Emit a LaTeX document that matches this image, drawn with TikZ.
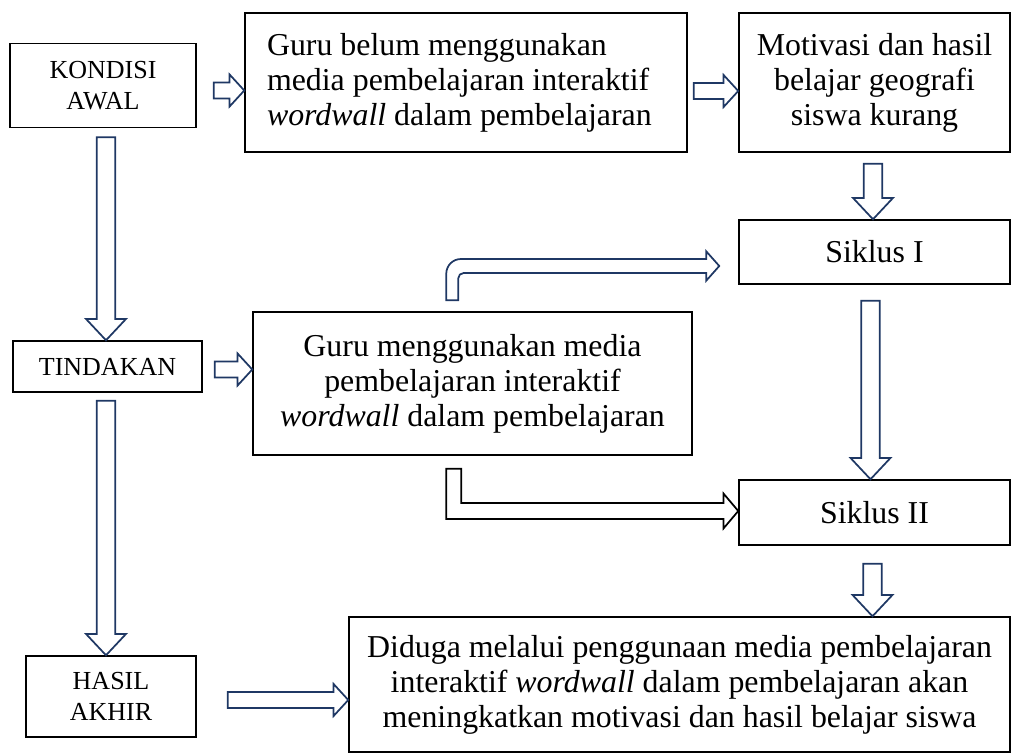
\documentclass[tikz,border=0pt]{standalone}
\usepackage{fontspec}
\setmainfont{Liberation Serif}
\usetikzlibrary{calc,positioning}
\definecolor{navy}{RGB}{31,56,100}
\tikzstyle{flow}=[
  x=0.75pt,y=-0.75pt,line join=miter
]
\tikzstyle{box}=[
  draw,line width=1.1pt,inner sep=0pt,align=center,
  font=\fontsize{23.9}{26.25}\selectfont
]
\tikzstyle{smallbox}=[
  box,font=\fontsize{19.5}{23.25}\selectfont
]
\tikzstyle{blk}=[
  draw=navy,line width=1.3pt,fill=white
]
% horizontal block arrow: start, tip
\newcommand{\harrow}[3][navy]{%
  \draw[blk,draw=#1] let \p1=(#2), \p2=(#3) in
    (\x1,\y1-6pt) -- (\x2-11pt,\y1-6pt) -- (\x2-11pt,\y1-12pt) -- (\x2,\y1)
    -- (\x2-11pt,\y1+12pt) -- (\x2-11pt,\y1+6pt) -- (\x1,\y1+6pt) -- cycle;}
% vertical block arrow (down): start, tip
\newcommand{\varrow}[2]{%
  \draw[blk] let \p1=(#1), \p2=(#2) in
    (\x1-7pt,\y1) -- (\x1-7pt,\y2+16pt) -- (\x1-15pt,\y2+16pt) -- (\x1,\y2)
    -- (\x1+15pt,\y2+16pt) -- (\x1+7pt,\y2+16pt) -- (\x1+7pt,\y1) -- cycle;}

\begin{document}
\begin{tikzpicture}[flow]
  \useasboundingbox (0,0) rectangle (1022,753);
  % boxes
  \node (kondisi) at (103,85.5) [smallbox,minimum width=186*0.75pt,minimum height=84*0.75pt] {KONDISI\\AWAL};
  \node (guru1) at (466,82.5) [box,align=flush left,text width=398*0.75pt,inner xsep=22*0.75pt,minimum height=139*0.75pt]
    {Guru belum menggunakan\\media pembelajaran interaktif\\\textit{wordwall} dalam pembelajaran};
  \node (motiv) at (874.5,82.5) [box,minimum width=271*0.75pt,minimum height=139*0.75pt]
    {Motivasi dan hasil\\belajar geografi\\siswa kurang};
  \node (siklus1) at (874.5,252) [box,minimum width=271*0.75pt,minimum height=64*0.75pt] {Siklus I};
  \node (tindakan) at (107.5,366.5) [smallbox,minimum width=189*0.75pt,minimum height=51*0.75pt] {TINDAKAN};
  \node (guru2) at (472.5,383.5) [box,minimum width=439*0.75pt,minimum height=143*0.75pt]
    {Guru menggunakan media\\pembelajaran interaktif\\\textit{wordwall} dalam pembelajaran};
  \node (siklus2) at (874.5,512.5) [box,minimum width=271*0.75pt,minimum height=65*0.75pt] {Siklus II};
  \node (hasil) at (111,696.5) [smallbox,minimum width=170*0.75pt,minimum height=81*0.75pt] {HASIL\\AKHIR};
  \node (diduga) at (679.5,684.5) [box,minimum width=661*0.75pt,minimum height=135*0.75pt]
    {Diduga melalui penggunaan media pembelajaran\\interaktif \textit{wordwall} dalam pembelajaran akan\\meningkatkan motivasi dan hasil belajar siswa};

  % free ends of the arrows
  \coordinate (a1) at ($(kondisi.east)+(17,5)$);
  \coordinate (a2) at ($(guru1.east)+(6,8.5)$);
  \coordinate (a3) at ($(kondisi.south)+(3,9)$);
  \coordinate (a4) at ($(tindakan.east)+(12,3)$);
  \coordinate (a5) at ($(tindakan.south)+(-1.5,8)$);
  \coordinate (a6) at ($(hasil.east)+(31,3.5)$);
  \coordinate (a7) at ($(motiv.south)+(-1.5,11)$);
  \coordinate (a8) at ($(siklus1.south)+(-4,16)$);
  \coordinate (a9) at ($(siklus2.south)+(-2,18)$);
  \coordinate (b1) at ($(guru2.north west)+(200,-11)$);
  \coordinate (b1t) at ($(siklus1.west)+(-19,14)$);
  \coordinate (b2) at ($(guru2.south west)+(201.5,13)$);
  \coordinate (b2t) at ($(siklus2.west)+(0,-1.5)$);

  % arrows
  \harrow{a1}{a1 -| guru1.west}
  \harrow{a2}{a2 -| motiv.west}
  \harrow{a4}{a4 -| guru2.west}
  \harrow{a6}{a6 -| diduga.west}
  \varrow{a3}{a3 |- tindakan.north}
  \varrow{a5}{a5 |- hasil.north}
  \varrow{a7}{a7 |- siklus1.north}
  \varrow{a8}{a8 |- siklus2.north}
  \varrow{a9}{a9 |- diduga.north}
  \draw[blk] let \p1=(b1), \p2=(b1t) in
    (\x1-4.5pt,\y1) [rounded corners=11pt] -- (\x1-4.5pt,\y2+5.25pt) -- (\x1+40pt,\y2+5.25pt)
    [sharp corners] -- (\x2-9.75pt,\y2+5.25pt) -- (\x2-9.75pt,\y2+11pt) -- (\x2,\y2)
    -- (\x2-9.75pt,\y2-11pt) -- (\x2-9.75pt,\y2-5.25pt) -- (\x1+40pt,\y2-5.25pt)
    [rounded corners=4pt] -- (\x1+4.5pt,\y2-5.25pt) -- (\x1+4.5pt,\y1+5pt)
    [sharp corners] -- (\x1+4.5pt,\y1) -- cycle;
  \draw[blk,draw=black] let \p1=(b2), \p2=(b2t) in
    (\x1-5.6pt,\y1) -- (\x1-5.6pt,\y2-6pt) -- (\x2-11pt,\y2-6pt) -- (\x2-11pt,\y2-13pt)
    -- (\x2,\y2) -- (\x2-11pt,\y2+13pt) -- (\x2-11pt,\y2+6pt) -- (\x1+5.6pt,\y2+6pt)
    -- (\x1+5.6pt,\y1) -- cycle;
\end{tikzpicture}
\end{document}
